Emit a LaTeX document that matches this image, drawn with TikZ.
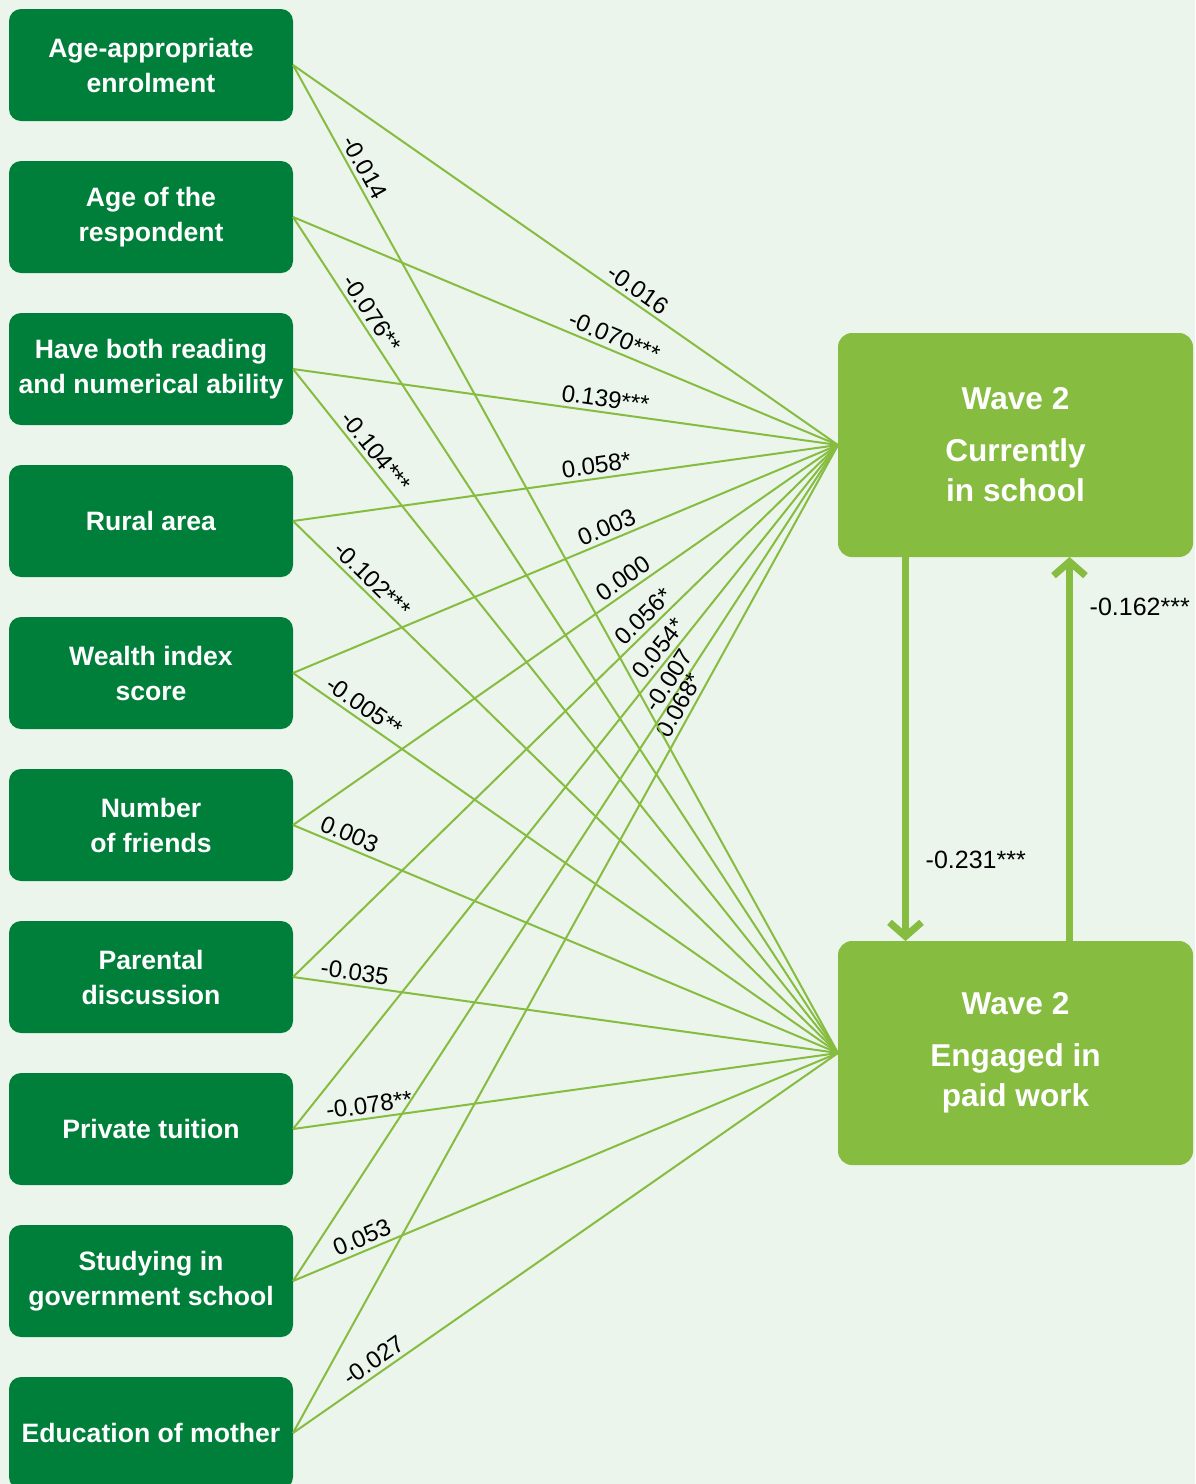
\documentclass[tikz,border=0pt]{standalone}
\usepackage{fontspec}
\setmainfont{Liberation Sans}
\usepackage{xcolor}
\definecolor{ygdark}{RGB}{0, 127, 58}
\definecolor{yglight}{RGB}{134, 188, 64}
\definecolor{ygback}{RGB}{235, 245, 236}
\usetikzlibrary{arrows.meta, positioning}

\begin{document}
\begin{tikzpicture}[
    x=0.5pt, y=-0.5pt,
    node distance=20pt,
    factor/.style={fill=ygdark, text=white, rounded corners=6pt, minimum width=142pt, minimum height=56pt,
        inner sep=0pt, outer sep=0pt, align=center, font=\bfseries\fontsize{13.3}{17.5}\selectfont},
    outcome/.style={fill=yglight, text=white, rounded corners=7pt, minimum width=177.5pt, minimum height=112pt,
        inner sep=0pt, outer sep=0pt, align=center, font=\bfseries\fontsize{15.8}{20}\selectfont},
    effect/.style={draw=yglight, line width=1pt},
    coef/.style={sloped, above, inner sep=2pt, font=\fontsize{12}{14}\selectfont},
    feedback/.style={draw=yglight, line width=3.5pt, -{Straight Barb[length=7pt, width=16pt]}}
]

% Fond
\fill[ygback] (0,0) rectangle (1195,1484);
\useasboundingbox (0,0) rectangle (1195,1484);

% Variables explicatives
\node[factor] (enrol) at (151,65) {Age-appropriate\\enrolment};
\node[factor, below=of enrol] (age) {Age of the\\respondent};
\node[factor, below=of age] (ability) {Have both reading\\and numerical ability};
\node[factor, below=of ability] (rural) {Rural area};
\node[factor, below=of rural] (wealth) {Wealth index\\score};
\node[factor, below=of wealth] (friends) {Number\\of friends};
\node[factor, below=of friends] (discuss) {Parental\\discussion};
\node[factor, below=of discuss] (tuition) {Private tuition};
\node[factor, below=of tuition] (govt) {Studying in\\government school};
\node[factor, below=of govt] (mother) {Education of mother};

% Resultats (vague 2)
\node[outcome] (school) at (1015.5,445) {Wave 2\\[6pt]Currently\\in school};
\node[outcome] (work) at (1015.5,1053) {Wave 2\\[6pt]Engaged in\\paid work};

% Effets vers la scolarisation
\draw[effect] (enrol.east) -- node[coef, pos=0.62] {-0.016} (school.west);
\draw[effect] (age.east) -- node[coef, pos=0.58] {-0.070***} (school.west);
\draw[effect] (ability.east) -- node[coef, pos=0.57] {0.139***} (school.west);
\draw[effect] (rural.east) -- node[coef, pos=0.56] {0.058*} (school.west);
\draw[effect] (wealth.east) -- node[coef, pos=0.585] {0.003} (school.west);
\draw[effect] (friends.east) -- node[coef, pos=0.62] {0.000} (school.west);
\draw[effect] (discuss.east) -- node[coef, pos=0.66] {0.056*} (school.west);
\draw[effect] (tuition.east) -- node[coef, pos=0.69] {0.054*} (school.west);
\draw[effect] (govt.east) -- node[coef, pos=0.71] {-0.007} (school.west);
\draw[effect] (mother.east) -- node[coef, pos=0.73] {0.068*} (school.west);

% Effets vers le travail
\draw[effect] (enrol.east) -- node[coef, pos=0.11] {-0.014} (work.west);
\draw[effect] (age.east) -- node[coef, pos=0.124] {-0.076**} (work.west);
\draw[effect] (ability.east) -- node[coef, pos=0.133] {-0.104***} (work.west);
\draw[effect] (rural.east) -- node[coef, pos=0.128] {-0.102***} (work.west);
\draw[effect] (wealth.east) -- node[coef, pos=0.117] {-0.005**} (work.west);
\draw[effect] (friends.east) -- node[coef, pos=0.094] {0.003} (work.west);
\draw[effect] (discuss.east) -- node[coef, pos=0.11] {-0.035} (work.west);
\draw[effect] (tuition.east) -- node[coef, pos=0.143] {-0.078**} (work.west);
\draw[effect] (govt.east) -- node[coef, pos=0.136] {0.053} (work.west);
\draw[effect] (mother.east) -- node[coef, pos=0.162] {-0.027} (work.west);

% Effets reciproques
\draw[feedback] ([xshift=-55pt]school.south) -- node[pos=0.79, right=5pt, font=\fontsize{12.5}{14}\selectfont] {-0.231***} ([xshift=-55pt]work.north);
\draw[feedback] ([xshift=27pt]work.north) -- node[pos=0.87, right=5pt, font=\fontsize{12.5}{14}\selectfont] {-0.162***} ([xshift=27pt]school.south);

\end{tikzpicture}
\end{document}
